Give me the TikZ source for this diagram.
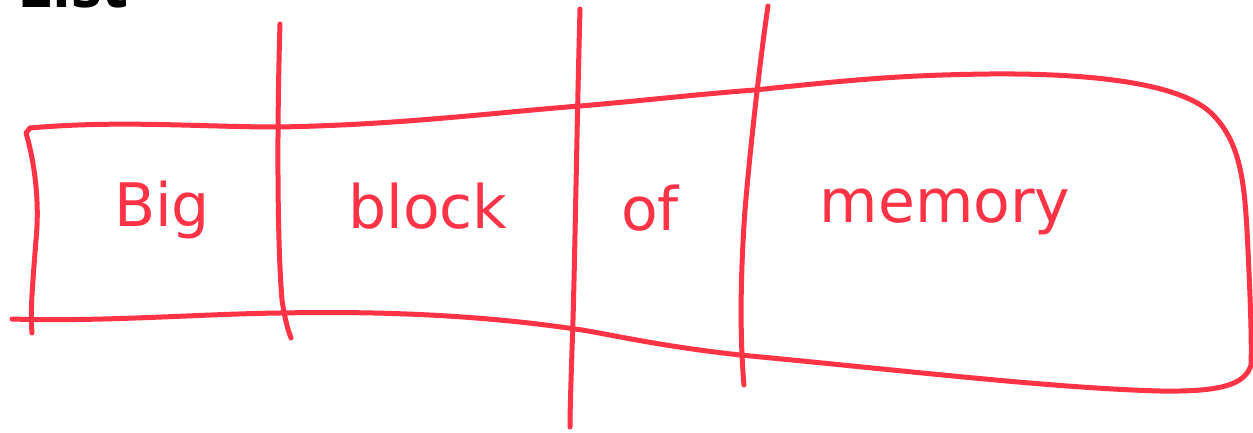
\documentclass[tikz,border=0pt]{standalone}
\usepackage{fontspec}
\newfontfamily\headfont{Open Sans}
\newfontfamily\handfont{DejaVu Sans}
\definecolor{ink}{HTML}{FF3346}
\tikzset{
  pen/.style={draw=ink, line width=5pt, line cap=round, line join=round},
  hand/.style={text=ink, font=\handfont\fontsize{60}{60}\selectfont, inner sep=0pt}
}
\begin{document}
\begin{tikzpicture}[x=1pt,y=-1pt]
\useasboundingbox (0,0) rectangle (1253,433);
\clip (0,0) rectangle (1253,433);
\fill[white] (0,0) rectangle (1253,433);
% title, cut off at top
\node[anchor=base west, inner sep=0pt, font=\headfont\bfseries\fontsize{62}{62}\selectfont] (title) at (17,8) {List};
% outer band: top edge and rounded right end
\draw[pen] (30,128) .. controls (120,120) and (200,127) .. (278,127)
  .. controls (400,125) and (500,112) .. (580,106)
  .. controls (650,100) and (700,94) .. (755,90)
  .. controls (850,80) and (900,75) .. (990,74)
  .. controls (1100,73) and (1180,85) .. (1210,112)
  .. controls (1240,140) and (1244,180) .. (1247,230)
  .. controls (1250,290) and (1252,340) .. (1251,365)
  .. controls (1245,385) and (1220,392) .. (1160,391)
  .. controls (1050,388) and (900,370) .. (740,355)
  .. controls (650,345) and (600,332) .. (575,329)
  .. controls (480,315) and (380,311) .. (280,313)
  .. controls (200,314) and (100,322) .. (12,319);
% left edge
\draw[pen] (30,128) -- (26,133) .. controls (34,160) and (40,200) .. (36,240)
  .. controls (33,280) and (30,310) .. (32,333);
% dividers
\draw[pen] (280,24) .. controls (277,120) and (277,240) .. (282,300) .. controls (285,320) and (288,330) .. (291,338);
\draw[pen] (580,9) .. controls (577,120) and (575,250) .. (573,320) .. controls (571,380) and (570,410) .. (570,427);
\draw[pen] (768,6) .. controls (760,60) and (750,150) .. (745,210) .. controls (740,280) and (740,340) .. (744,385);
% words
\node[hand] (w1) at (162,210) {Big};
\node[hand] (w2) at (428,206) {block};
\node[hand] (w3) at (650,208) {of};
\node[hand] (w4) at (945,212) {memory};
\end{tikzpicture}
\end{document}
